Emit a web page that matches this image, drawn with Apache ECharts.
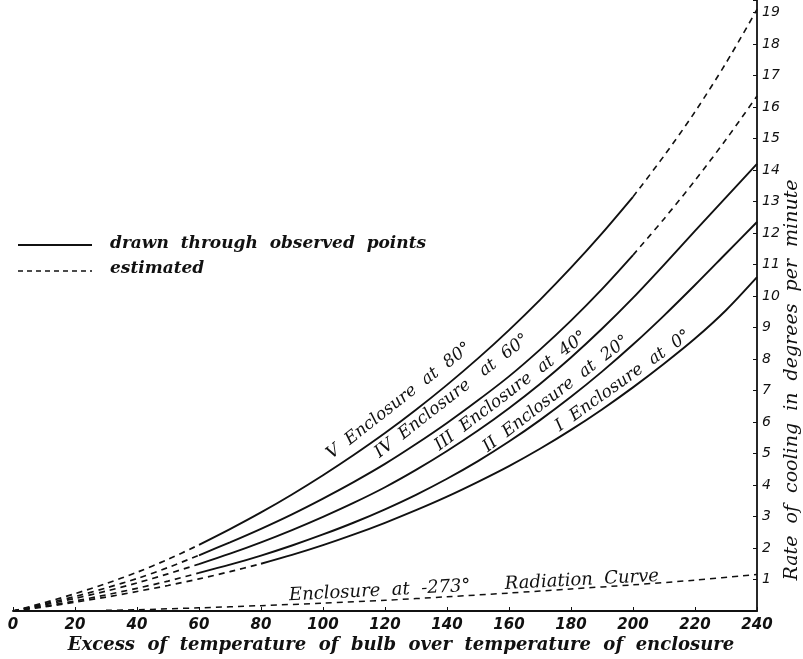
<!DOCTYPE html>
<html>
<head>
<meta charset="utf-8">
<script src="https://cdn.jsdelivr.net/npm/echarts@6/dist/echarts.min.js"></script>
<style>
html,body{margin:0;padding:0;background:#fff;}
#container{width:803px;height:659px;}
</style>
</head>
<body>
<div id="container"></div>
<script>
// excess of temperature (x) for the curves
var xVals = [0, 10, 20, 30, 40, 50, 60, 70, 80, 90, 100, 110, 120, 130, 140, 150, 160, 170, 180, 190, 200, 210, 220, 230, 240];
// rate of cooling
var curveI   = [0, 0.13, 0.28, 0.44, 0.62, 0.81, 1.02, 1.25, 1.5, 1.78, 2.09, 2.43, 2.8, 3.2, 3.63, 4.1, 4.6, 5.15, 5.75, 6.4, 7.1, 7.85, 8.65, 9.55, 10.6];           // enclosure at 0
var curveII  = [0, 0.15, 0.32, 0.51, 0.72, 0.95, 1.21, 1.47, 1.76, 2.08, 2.43, 2.81, 3.23, 3.69, 4.2, 4.76, 5.38, 6.06, 6.8, 7.6, 8.46, 9.38, 10.35, 11.35, 12.35];    // enclosure at 20
var curveIII = [0, 0.19, 0.4, 0.63, 0.89, 1.18, 1.49, 1.82, 2.18, 2.57, 2.99, 3.44, 3.93, 4.48, 5.08, 5.73, 6.44, 7.21, 8.05, 8.96, 9.94, 10.99, 12.07, 13.13, 14.2];  // enclosure at 40
var curveIV  = [0, 0.22, 0.46, 0.73, 1.03, 1.38, 1.77, 2.18, 2.61, 3.07, 3.57, 4.1, 4.67, 5.3, 5.97, 6.69, 7.45, 8.3, 9.22, 10.22, 11.3, 12.45, 13.67, 14.97, 16.35]; // enclosure at 60
var curveV   = [0, 0.26, 0.55, 0.87, 1.23, 1.64, 2.1, 2.6, 3.13, 3.7, 4.31, 4.96, 5.65, 6.39, 7.18, 8.02, 8.92, 9.88, 10.9, 11.99, 13.15, 14.45, 15.85, 17.4, 19.1];   // enclosure at 80
// radiation curve (enclosure at -273)
var radX = [30, 40, 60, 80, 100, 120, 140, 160, 180, 200, 220, 240];
var radY = [0.02, 0.04, 0.1, 0.17, 0.25, 0.34, 0.45, 0.57, 0.7, 0.83, 0.98, 1.16];
var xTicks = [0, 20, 40, 60, 80, 100, 120, 140, 160, 180, 200, 220, 240];
var yTicks = [1, 2, 3, 4, 5, 6, 7, 8, 9, 10, 11, 12, 13, 14, 15, 16, 17, 18, 19];

// observed (solid) part of each curve, the rest is estimated (dashed)
var curves = [
	{ys: curveI,   from: 80, to: 240, label: 'I  Enclosure  at  0°',     c: [623, 381], rot: 35.5},
	{ys: curveII,  from: 60, to: 240, label: 'II  Enclosure  at  20°',   c: [556, 394], rot: 37.7},
	{ys: curveIII, from: 60, to: 240, label: 'III  Enclosure  at  40°',  c: [511, 391], rot: 37.2},
	{ys: curveIV,  from: 60, to: 200, label: 'IV  Enclosure   at  60°',  c: [452, 396], rot: 37.9},
	{ys: curveV,   from: 60, to: 200, label: 'V  Enclosure  at  80°',    c: [399, 401], rot: 38}
];

function seg(xs, ys, a, b) {
	var out = [];
	for (var i = 0; i < xs.length; i++) {
		if (xs[i] >= a && xs[i] <= b) out.push([xs[i], ys[i]]);
	}
	return out;
}

var series = [];
var ink = '#111';
curves.forEach(function (cv) {
	series.push({type: 'line', smooth: 0.3, showSymbol: false, silent: true,
		lineStyle: {color: ink, width: 1.7, type: [6, 5]}, data: seg(xVals, cv.ys, 0, cv.from)});
	series.push({type: 'line', smooth: 0.3, showSymbol: false, silent: true,
		lineStyle: {color: ink, width: 1.9}, data: seg(xVals, cv.ys, cv.from, cv.to)});
	if (cv.to < 240) {
		series.push({type: 'line', smooth: 0.3, showSymbol: false, silent: true,
			lineStyle: {color: ink, width: 1.6, type: [6, 5]}, data: seg(xVals, cv.ys, cv.to, 240)});
	}
});
series.push({type: 'line', smooth: 0.3, showSymbol: false, silent: true,
	lineStyle: {color: ink, width: 1.5, type: [6, 5]}, data: seg(radX, radY, 0, 240)});

var labelFont = 'italic 17px "DejaVu Serif"';
var graphics = curves.map(function (cv) {
	return {type: 'text', x: cv.c[0], y: cv.c[1], rotation: cv.rot * Math.PI / 180,
		style: {text: cv.label, font: labelFont, fill: ink, align: 'center', verticalAlign: 'middle'}};
});
graphics.push({type: 'text', x: 474, y: 586, rotation: 3 * Math.PI / 180,
	style: {text: 'Enclosure  at  -273°      Radiation  Curve', font: 'italic 18px "DejaVu Serif"', fill: ink, align: 'center', verticalAlign: 'middle'}});
// legend
graphics.push({type: 'line', shape: {x1: 18, y1: 245, x2: 92, y2: 245}, style: {stroke: ink, lineWidth: 1.8}});
graphics.push({type: 'line', shape: {x1: 18, y1: 271, x2: 92, y2: 271}, style: {stroke: ink, lineWidth: 1.6, lineDash: [5, 4]}});
graphics.push({type: 'text', x: 110, y: 244, style: {text: 'drawn  through  observed  points', font: 'bold italic 17px "DejaVu Serif"', fill: ink, verticalAlign: 'middle'}});
graphics.push({type: 'text', x: 110, y: 269, style: {text: 'estimated', font: 'bold italic 17px "DejaVu Serif"', fill: ink, verticalAlign: 'middle'}});
// axis titles
graphics.push({type: 'text', x: 401, y: 645, style: {text: 'Excess  of  temperature  of  bulb  over  temperature  of  enclosure', font: 'bold italic 18px "DejaVu Serif"', fill: ink, align: 'center', verticalAlign: 'middle'}});
graphics.push({type: 'text', x: 792, y: 380, rotation: Math.PI / 2, style: {text: 'Rate  of  cooling  in  degrees  per  minute', font: 'italic 19px "DejaVu Serif"', fill: ink, align: 'center', verticalAlign: 'middle'}});

var myChart = echarts.init(document.getElementById('container'));
myChart.setOption({
	backgroundColor: '#fff',
	animation: false,
	grid: {left: 13, right: 46, top: 0, bottom: 48},
	xAxis: {
		type: 'value', min: 0, max: 240, interval: 20,
		axisLine: {onZero: false, lineStyle: {color: ink, width: 1.8}},
		axisTick: {inside: true, length: 4, lineStyle: {color: ink}},
		splitLine: {show: false},
		axisLabel: {color: ink, fontFamily: 'DejaVu Sans', fontStyle: 'italic', fontWeight: 'bold', fontSize: 15, margin: 7,
			formatter: function (v) { return xTicks.indexOf(v) >= 0 ? String(v) : ''; }}
	},
	yAxis: {
		type: 'value', position: 'right', min: 0, max: 19.4, interval: 1,
		axisLine: {show: true, onZero: false, lineStyle: {color: ink, width: 1.8}},
		axisTick: {inside: true, length: 4, lineStyle: {color: ink}},
		splitLine: {show: false},
		axisLabel: {color: ink, fontFamily: 'DejaVu Sans', fontStyle: 'italic', fontSize: 14, margin: 5,
			formatter: function (v) { return yTicks.indexOf(v) >= 0 ? String(v) : ''; }}
	},
	series: series,
	graphic: graphics
});
</script>
</body>
</html>
